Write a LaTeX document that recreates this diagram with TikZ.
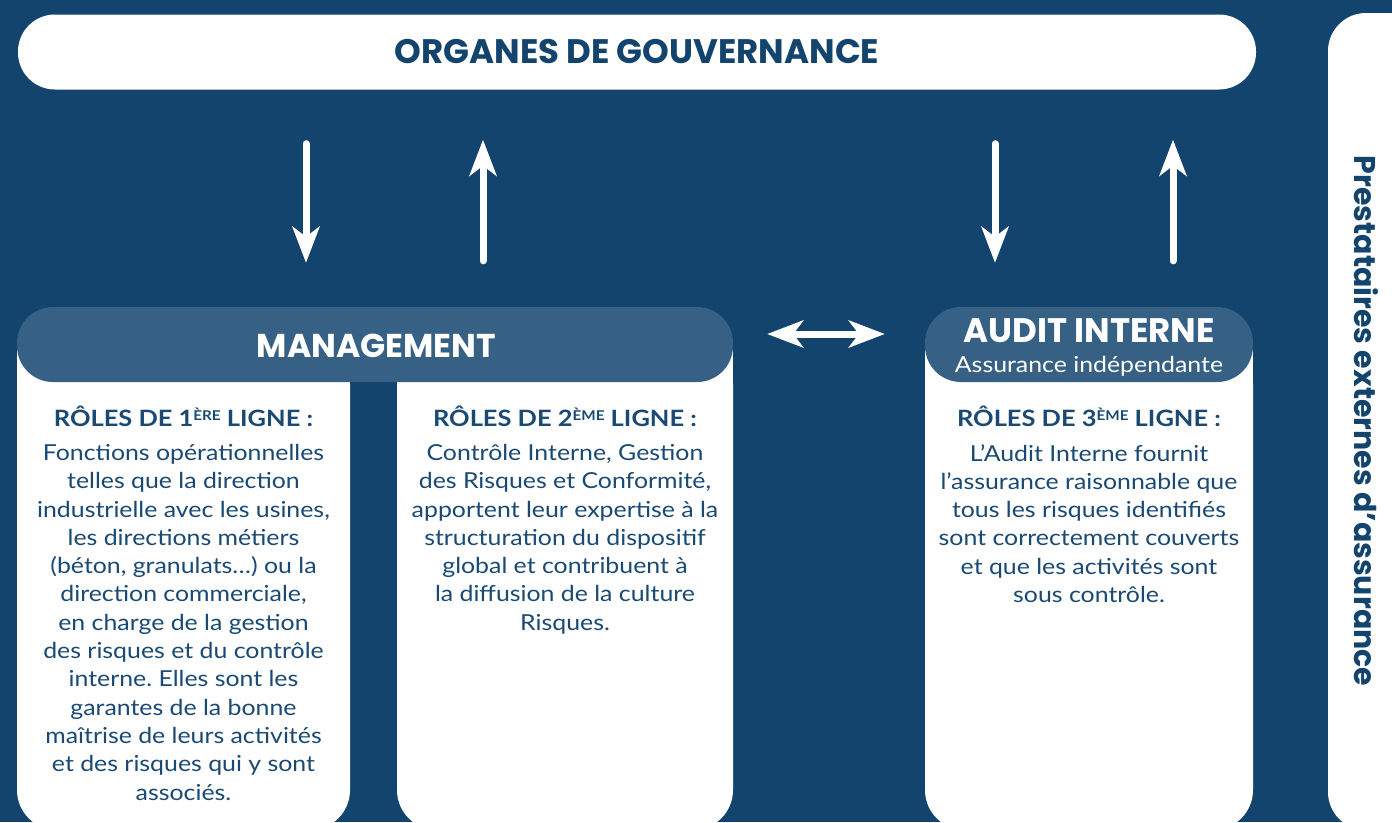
\documentclass[tikz,border=0pt]{standalone}
\usepackage{fontspec}
\setmainfont{Lato}[FakeStretch=1.13]
\newfontfamily\headfont{Poppins}
\usetikzlibrary{arrows.meta}
\frenchspacing

\definecolor{navy}{HTML}{13446E}
\definecolor{steel}{HTML}{366184}
\definecolor{ink}{HTML}{1A4A74}

% small raised ordinal suffix
\newcommand\supx[1]{\raisebox{5.5pt}{\fontsize{13.5}{13.5}\selectfont #1}}

\begin{document}
\begin{tikzpicture}[x=1pt,y=-1pt,
  pill/.style={fill=white, rounded corners=37pt, inner sep=0pt, minimum height=75pt},
  hdr/.style={fill=steel, rounded corners=36pt, inner sep=0pt, minimum height=75pt},
  column/.style={fill=white, rounded corners=40pt, inner sep=0pt},
  rolehead/.style={text=ink, font=\bfseries\fontsize{22.5}{22.5}\selectfont, inner sep=0pt},
  bodytext/.style={text=ink, align=center, anchor=north, inner sep=0pt,
                   font=\fontsize{22}{28.3}\selectfont},
  arr/.style={white, line width=7pt, line cap=round,
              -{Stealth[length=36pt, width=27pt, inset=10pt]}},
  dblarr/.style={white, line width=7pt,
              {Stealth[length=36pt, width=27pt, inset=10pt]}-{Stealth[length=36pt, width=27pt, inset=10pt]}}
]
\fill[navy] (0,0) rectangle (1392,822);
\useasboundingbox (0,0) rectangle (1392,822);

% governance bar
\node[pill, minimum width=1238pt, text=navy,
      font=\headfont\bfseries\fontsize{34}{34}\selectfont] (gov) at (637,52) {ORGANES DE GOUVERNANCE};

% external assurance band on the right
\node[column, rounded corners=38pt, minimum width=112pt, minimum height=817pt] (ext) at (1384,421.5) {};
\node[rotate=-90, text=navy, inner sep=0pt,
      font=\headfont\bfseries\fontsize{30}{30}\selectfont] (extt) at (1366,421) {Prestataires externes d’assurance};

% white columns (square tops hidden under the headers)
\node[column, minimum width=333pt, minimum height=486pt] (col1) at (183.5,587) {};
\fill[white] (col1.north west) rectangle ([yshift=-60pt]col1.north east);
\node[column, minimum width=336pt, minimum height=486pt] (col2) at (565,587) {};
\fill[white] (col2.north west) rectangle ([yshift=-60pt]col2.north east);
\node[column, minimum width=328pt, minimum height=486pt] (col3) at (1089,587) {};
\fill[white] (col3.north west) rectangle ([yshift=-60pt]col3.north east);

% headers
\node[hdr, minimum width=716pt] (mg) at (375,344.5) {};
\node[text=white, inner sep=0pt, font=\headfont\bfseries\fontsize{33}{33}\selectfont] (mgt) at (376.5,346) {MANAGEMENT};
\node[hdr, minimum width=328pt] (au) at (1089,344.5) {};
\node[text=white, inner sep=0pt, font=\headfont\bfseries\fontsize{34}{34}\selectfont] (aut) at (1089,330.5) {AUDIT INTERNE};
\node[text=white, inner sep=0pt, font=\fontsize{22}{22}\selectfont] (aus) at (1089,366) {Assurance indépendante};

% arrows between governance and the lines
\coordinate (c1) at (306,0);
\coordinate (c2) at (483,0);
\coordinate (c3) at (995,0);
\coordinate (c4) at (1173,0);
\coordinate (c5) at (0,334);
\draw[arr, shorten <=54pt, shorten >=44pt] (gov.south -| c1) -- (mg.north -| c1);
\draw[arr, shorten <=46pt, shorten >=50pt] (mg.north -| c2) -- (gov.south -| c2);
\draw[arr, shorten <=54pt, shorten >=44pt] (gov.south -| c3) -- (au.north -| c3);
\draw[arr, shorten <=46pt, shorten >=50pt] (au.north -| c4) -- (gov.south -| c4);
\draw[dblarr, shorten <=34pt, shorten >=40pt] (mg.east |- c5) -- (au.west |- c5);

% role headings
\node[rolehead] (r1) at (183.5,416) {RÔLES DE 1\supx{ÈRE} LIGNE :};
\node[rolehead] (r2) at (565,416) {RÔLES DE 2\supx{ÈME} LIGNE :};
\node[rolehead] (r3) at (1089,416) {RÔLES DE 3\supx{ÈME} LIGNE :};

% descriptions
\node[bodytext] (b1) at (183.5,444) {Fonctions opérationnelles\\
telles que la direction\\
industrielle avec les usines,\\
les directions métiers\\
(béton, granulats…) ou la\\
direction commerciale,\\
en charge de la gestion\\
des risques et du contrôle\\
interne. Elles sont les\\
garantes de la bonne\\
maîtrise de leurs activités\\
et des risques qui y sont\\
associés.};
\node[bodytext] (b2) at (565,444) {Contrôle Interne, Gestion\\
des Risques et Conformité,\\
apportent leur expertise à la\\
structuration du dispositif\\
global et contribuent à\\
la diffusion de la culture\\
Risques.};
\node[bodytext] (b3) at (1089,444) {L’Audit Interne fournit\\
l’assurance raisonnable que\\
tous les risques identifiés\\
sont correctement couverts\\
et que les activités sont\\
sous contrôle.};
\end{tikzpicture}
\end{document}
